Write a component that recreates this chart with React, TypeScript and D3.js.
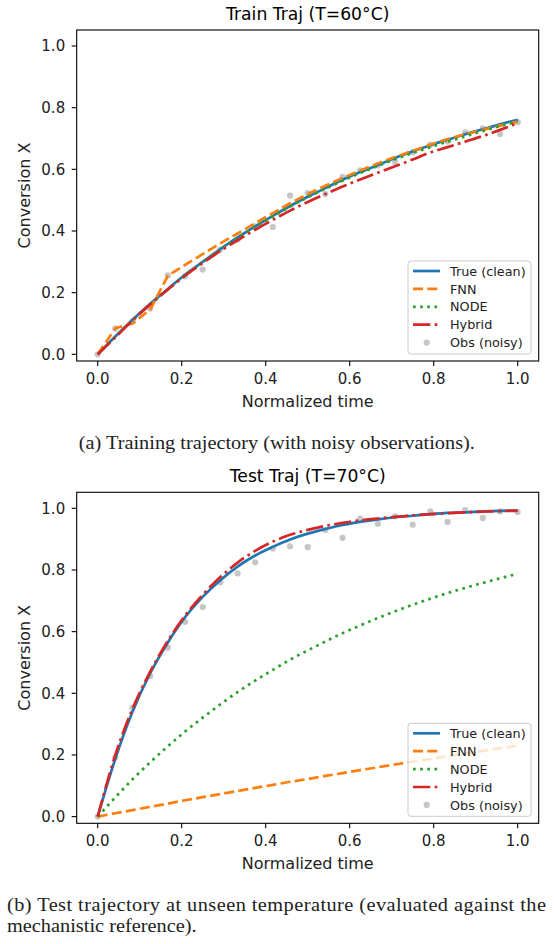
import React from 'react'
import * as d3 from 'd3'

// normalized time grid (25 samples)
const times = [0, 0.042, 0.083, 0.125, 0.167, 0.208, 0.25, 0.292, 0.333, 0.375, 0.417, 0.458, 0.5,
  0.542, 0.583, 0.625, 0.667, 0.708, 0.75, 0.792, 0.833, 0.875, 0.917, 0.958, 1.0]

// train trajectory T=60°C
const trainTrue = [0, 0.058, 0.112, 0.164, 0.212, 0.258, 0.3, 0.341, 0.379, 0.415, 0.449, 0.481, 0.511,
  0.539, 0.566, 0.591, 0.614, 0.637, 0.658, 0.678, 0.696, 0.714, 0.73, 0.746, 0.761]
const trainFNN = [0, 0.085, 0.1, 0.145, 0.255, 0.29, 0.325, 0.36, 0.392, 0.425, 0.458, 0.49, 0.52,
  0.547, 0.572, 0.596, 0.619, 0.64, 0.66, 0.68, 0.698, 0.714, 0.728, 0.742, 0.755]
const trainNODE = [0, 0.057, 0.111, 0.163, 0.211, 0.257, 0.299, 0.339, 0.377, 0.413, 0.447, 0.479, 0.509,
  0.537, 0.563, 0.588, 0.611, 0.633, 0.653, 0.672, 0.69, 0.707, 0.724, 0.74, 0.756]
const trainHybrid = [0, 0.055, 0.11, 0.162, 0.21, 0.255, 0.296, 0.335, 0.37, 0.404, 0.436, 0.466, 0.494,
  0.52, 0.544, 0.567, 0.589, 0.61, 0.632, 0.655, 0.672, 0.69, 0.708, 0.728, 0.75]
const trainObs = [0, 0.084, 0.108, 0.149, 0.256, 0.253, 0.275, 0.34, 0.372, 0.415, 0.413, 0.515, 0.523,
  0.52, 0.576, 0.597, 0.613, 0.624, 0.655, 0.68, 0.69, 0.72, 0.733, 0.715, 0.753]

// test trajectory T=70°C
const testTrue = [0, 0.188, 0.341, 0.465, 0.565, 0.647, 0.713, 0.767, 0.811, 0.847, 0.875, 0.899, 0.918,
  0.933, 0.946, 0.956, 0.964, 0.971, 0.976, 0.981, 0.985, 0.987, 0.99, 0.992, 0.993]
const testFNN = [0, 0.011, 0.021, 0.032, 0.042, 0.053, 0.063, 0.073, 0.083, 0.093, 0.103, 0.113, 0.122,
  0.132, 0.141, 0.151, 0.16, 0.169, 0.178, 0.187, 0.196, 0.204, 0.213, 0.222, 0.23]
const testNODE = [0, 0.0625, 0.121, 0.176, 0.228, 0.276, 0.321, 0.364, 0.404, 0.441, 0.476, 0.509, 0.539,
  0.568, 0.595, 0.62, 0.644, 0.666, 0.687, 0.707, 0.725, 0.742, 0.758, 0.773, 0.788]
const testHybrid = [0, 0.2, 0.35, 0.47, 0.57, 0.652, 0.72, 0.777, 0.824, 0.862, 0.892, 0.914, 0.93,
  0.943, 0.953, 0.961, 0.967, 0.972, 0.977, 0.981, 0.984, 0.987, 0.989, 0.991, 0.992]
const testObs = [0, 0.192, 0.354, 0.456, 0.548, 0.632, 0.68, 0.76, 0.789, 0.825, 0.87, 0.877, 0.874,
  0.93, 0.904, 0.967, 0.95, 0.974, 0.947, 0.99, 0.956, 0.994, 0.969, 0.99, 0.988]

const tickValues = [0, 0.2, 0.4, 0.6, 0.8, 1.0]
const legendLabels = ['True (clean)', 'FNN', 'NODE', 'Hybrid', 'Obs (noisy)']

const FONT = 'DejaVu Sans, sans-serif'
const LW = 2.7
const series = [
  { key: 'true', color: '#1f77b4', dash: null },
  { key: 'fnn', color: '#ff7f0e', dash: '10,4.3' },
  { key: 'node', color: '#2ca02c', dash: '2.7,4.45' },
  { key: 'hybrid', color: '#d62728', dash: '17.3,4.3,2.7,4.3' },
]

function Panel({ top, title, lines, obs }: any) {
  const x = d3.scaleLinear().domain([-0.05, 1.05]).range([76.7, 538.7])
  const y = d3.scaleLinear().domain([-0.0217, 1.052]).range([top + 331, top])
  const pts = (vals: number[]) => vals.map((v, i) => [times[i], v] as [number, number])
  const smooth = d3.line().x(d => x(d[0])).y(d => y(d[1])).curve(d3.curveMonotoneX)
  const straight = d3.line().x(d => x(d[0])).y(d => y(d[1]))
  const [x0, x1] = x.range()
  const lgX = 408, lgY = top + 231
  return (
    <g>
      <text x={(x0 + x1) / 2} y={top - 10} textAnchor="middle" fontSize={17.2} fontFamily={FONT}>{title}</text>
      <defs>
        <clipPath id={'clip' + top}><rect x={x0} y={top} width={x1 - x0} height={331} /></clipPath>
      </defs>
      <g clipPath={`url(#clip${top})`}>
        {obs.map((v: number, i: number) => (
          <circle key={i} cx={x(times[i])} cy={y(v)} r={3.1} fill="#808080" opacity={0.45} />
        ))}
        {series.map((s, i) => (
          <path key={s.key} d={(s.key === 'fnn' ? straight : smooth)(pts(lines[i])) as string}
            fill="none" stroke={s.color} strokeWidth={LW} strokeDasharray={s.dash || undefined} />
        ))}
      </g>
      <rect x={x0} y={top} width={x1 - x0} height={331} fill="none" stroke="#000" strokeWidth={1.1} />
      {tickValues.map(t => (
        <g key={'x' + t}>
          <line x1={x(t)} x2={x(t)} y1={top + 331} y2={top + 336} stroke="#000" strokeWidth={1.1} />
          <text x={x(t)} y={top + 353.5} textAnchor="middle" fontSize={15} fontFamily={FONT} fill="#222">{d3.format('.1f')(t)}</text>
        </g>
      ))}
      {tickValues.map(t => (
        <g key={'y' + t}>
          <line x1={x0 - 5} x2={x0} y1={y(t)} y2={y(t)} stroke="#000" strokeWidth={1.1} />
          <text x={x0 - 11.5} y={y(t) + 5.4} textAnchor="end" fontSize={15} fontFamily={FONT} fill="#222">{d3.format('.1f')(t)}</text>
        </g>
      ))}
      <text x={(x0 + x1) / 2} y={top + 377} textAnchor="middle" fontSize={16} fontFamily={FONT} fill="#222">Normalized time</text>
      <text transform={`translate(30,${top + 165.5}) rotate(-90)`} textAnchor="middle" fontSize={16} fontFamily={FONT} fill="#222">Conversion X</text>
      <rect x={lgX} y={lgY} width={123} height={93} rx={3} fill="#fff" fillOpacity={0.8} stroke="#cccccc" strokeWidth={1} />
      {legendLabels.map((lab, i) => {
        const cy = lgY + 10 + i * 17.9
        const s = series[i]
        return (
          <g key={lab}>
            {s ? (
              <line x1={lgX + 5} x2={lgX + 32} y1={cy} y2={cy} stroke={s.color} strokeWidth={LW} strokeDasharray={s.dash || undefined} />
            ) : (
              <circle cx={lgX + 18.7} cy={cy} r={3.1} fill="#808080" opacity={0.45} />
            )}
            <text x={lgX + 42} y={cy + 4.6} fontSize={12.8} fontFamily={FONT} fill="#222">{lab}</text>
          </g>
        )
      })}
    </g>
  )
}

export default function App() {
  return (
    <svg width={554} height={944} style={{ position: 'absolute', left: 0, top: 0, background: '#fff' }}>
      <rect width={554} height={944} fill="#fff" />
      <Panel top={30} title="Train Traj (T=60°C)" lines={[trainTrue, trainFNN, trainNODE, trainHybrid]} obs={trainObs} />
      <Panel top={492.3} title="Test Traj (T=70°C)" lines={[testTrue, testFNN, testNODE, testHybrid]} obs={testObs} />
      <g fontFamily="Liberation Serif, serif" fontSize={18} fill="#222" transform="scale(1.13,1)">
        <text x={276.8 / 1.13} y={449} textAnchor="middle">(a) Training trajectory (with noisy observations).</text>
        <text x={7 / 1.13} y={911} textLength={539 / 1.13} lengthAdjust="spacing">(b) Test trajectory at unseen temperature (evaluated against the</text>
        <text x={7 / 1.13} y={932}>mechanistic reference).</text>
      </g>
    </svg>
  )
}
